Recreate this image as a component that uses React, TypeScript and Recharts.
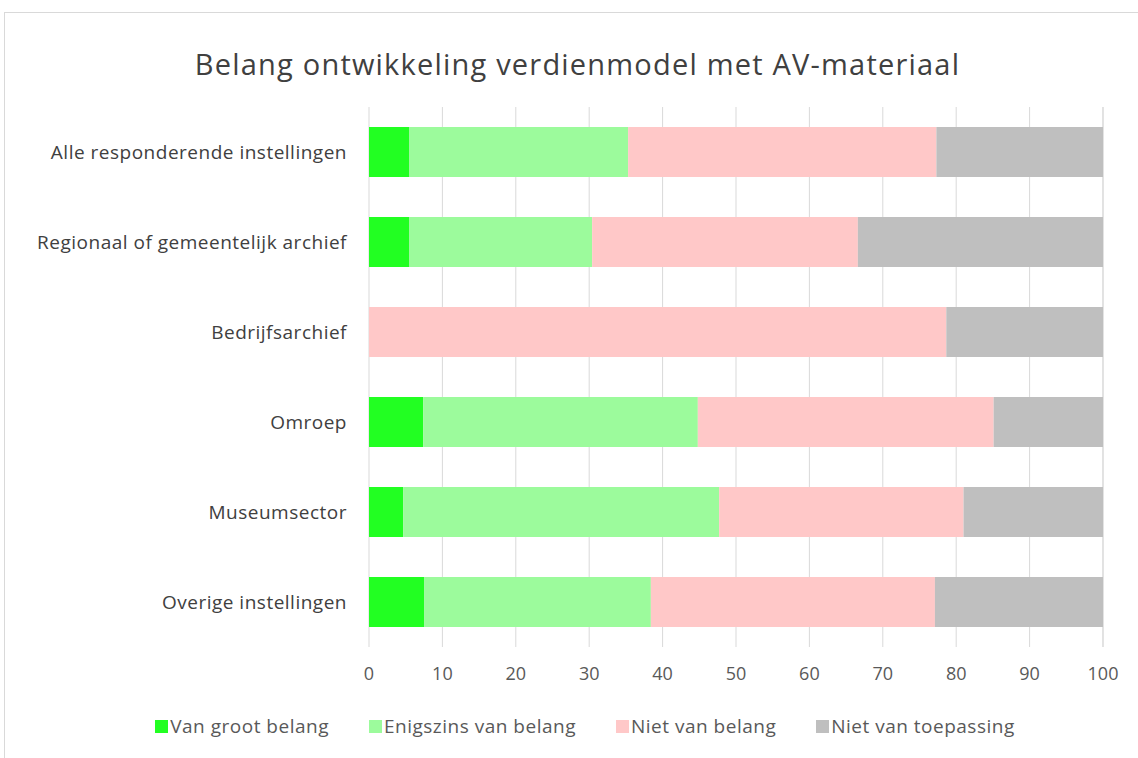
import React from "react";
import { BarChart, Bar, XAxis, YAxis, CartesianGrid, Legend } from "recharts";

const categories = [
  "Alle responderende instellingen",
  "Regionaal of gemeentelijk archief",
  "Bedrijfsarchief",
  "Omroep",
  "Museumsector",
  "Overige instellingen",
];
const vanGrootBelang = [5.45, 5.45, 0, 7.4, 4.65, 7.5];
const enigszinsVanBelang = [29.85, 24.95, 0, 37.4, 43.05, 30.9];
const nietVanBelang = [42.0, 36.2, 78.65, 40.3, 33.3, 38.7];
const nietVanToepassing = [22.7, 33.4, 21.35, 14.9, 19.0, 22.9];
const xTicks = [0, 10, 20, 30, 40, 50, 60, 70, 80, 90, 100];

const seriesNames = ["Van groot belang", "Enigszins van belang", "Niet van belang", "Niet van toepassing"];
const seriesColors = ["#22FF22", "#9CFB9C", "#FFC8C8", "#BFBFBF"];
const seriesKeys = ["a", "b", "c", "d"];

const data = categories.map((name, i) => ({
  name,
  a: vanGrootBelang[i],
  b: enigszinsVanBelang[i],
  c: nietVanBelang[i],
  d: nietVanToepassing[i],
}));

const FONT = "'Open Sans', sans-serif";

const LegendContent = () => (
  <div
    style={{
      position: "absolute",
      left: 0,
      top: 0,
      width: 1138,
      display: "flex",
      justifyContent: "center",
      gap: 40,
      fontFamily: FONT,
      fontSize: 19,
      letterSpacing: 0.5,
      color: "#595959",
      paddingLeft: 32,
      boxSizing: "border-box",
    }}
  >
    {seriesNames.map((n, i) => (
      <div key={n} style={{ display: "flex", alignItems: "center" }}>
        <span
          style={{
            display: "inline-block",
            width: 13,
            height: 13,
            background: seriesColors[i],
            marginRight: 2,
          }}
        />
        <span>{n}</span>
      </div>
    ))}
  </div>
);

export default function App() {
  return (
    <div
      style={{
        position: "absolute",
        left: 0,
        top: 0,
        width: 1138,
        height: 758,
        overflow: "hidden",
        background: "#ffffff",
      }}
    >
      <div style={{ position: "absolute", left: 4, top: 12, width: 1200, height: 1, background: "#d9d9d9" }} />
      <div style={{ position: "absolute", left: 4, top: 12, width: 1, height: 800, background: "#d9d9d9" }} />
      <div
        style={{
          position: "absolute",
          left: 0,
          width: 1155,
          top: 44,
          textAlign: "center",
          fontFamily: FONT,
          fontSize: 29,
          letterSpacing: 1.2,
          color: "#404040",
          whiteSpace: "nowrap",
        }}
      >
        Belang ontwikkeling verdienmodel met AV-materiaal
      </div>
      <div style={{ position: "absolute", left: 0, top: 0 }}>
        <BarChart
          width={1138}
          height={758}
          data={data}
          layout="vertical"
          margin={{ top: 107, right: 35, bottom: 81, left: 10 }}
          barSize={50}
        >
          <CartesianGrid horizontal={false} vertical={true} stroke="#d9d9d9" />
          <XAxis
            type="number"
            domain={[0, 100]}
            ticks={xTicks}
            axisLine={false}
            tickLine={false}
            tickMargin={14}
            height={30}
            tick={{ fontSize: 18, fill: "#595959", fontFamily: FONT }}
            interval={0}
          />
          <YAxis
            type="category"
            dataKey="name"
            width={359}
            axisLine={false}
            tickLine={false}
            tickMargin={16}
            tick={{ fontSize: 19, fill: "#404040", fontFamily: FONT, letterSpacing: 0.5 }}
            interval={0}
          />
          <Legend
            verticalAlign="bottom"
            content={<LegendContent />}
            wrapperStyle={{ left: 0, width: 1138, top: 713, height: 0 }}
          />
          {seriesKeys.map((k, i) => (
            <Bar
              key={k}
              dataKey={k}
              name={seriesNames[i]}
              stackId="s"
              fill={seriesColors[i]}
              isAnimationActive={false}
            />
          ))}
        </BarChart>
      </div>
    </div>
  );
}
